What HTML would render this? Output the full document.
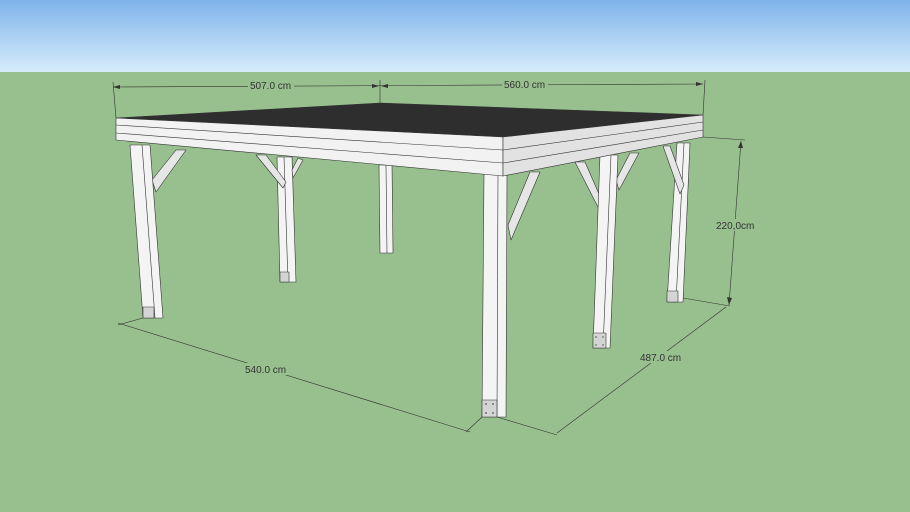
<!DOCTYPE html>
<html><head><style>
html,body{margin:0;padding:0;width:910px;height:512px;overflow:hidden}
svg{display:block}
text{font-family:"Liberation Sans",sans-serif;font-size:10px;fill:#333}
</style></head><body>
<svg width="910" height="512" viewBox="0 0 910 512">
<defs>
<linearGradient id="sky" x1="0" y1="0" x2="0" y2="1">
<stop offset="0" stop-color="#7fb3ea"/><stop offset="1" stop-color="#d6ecfb"/>
</linearGradient>
</defs>
<rect x="0" y="0" width="910" height="72" fill="url(#sky)"/>
<rect x="0" y="72" width="910" height="440" fill="#98bf8e"/>
<g stroke="#333" stroke-width="0.6" stroke-linejoin="round">
<polygon points="379,165 392,165 393,253 380,253" fill="#f4f4f4"/>
<line x1="386" y1="165" x2="387" y2="253"/>
<polygon points="277,157 292,157 296,282 280,282" fill="#f4f4f4"/>
<line x1="284" y1="157" x2="288" y2="282"/>
<rect x="280" y="272" width="9" height="10" fill="#d4d4d4"/>
<polygon points="677,143 690,143 683,302 667,302" fill="#f4f4f4"/>
<line x1="684" y1="143" x2="676" y2="302"/>
<rect x="667" y="291" width="11" height="11" fill="#d4d4d4"/>
<polygon points="256,155 266,155 286,182 283,188" fill="#e6e6e6"/>
<polygon points="292,170 298,158 303,160 293,178" fill="#e6e6e6"/>
<polygon points="663,146 670,146 684,185 680,194" fill="#e6e6e6"/>
<polygon points="176,150 186,150 156,192 152,180" fill="#e6e6e6"/>
<polygon points="530,172 540,172 511,240 508,225" fill="#e6e6e6"/>
<polygon points="575,162 585,162 606,210 604,219" fill="#e6e6e6"/>
<polygon points="630,153 639,153 619,190 616,180" fill="#e6e6e6"/>
<polygon points="130,145 150,145 163,318 143,318" fill="#f4f4f4"/>
<line x1="142" y1="145" x2="155" y2="318"/>
<rect x="143" y="307" width="11" height="11" fill="#d4d4d4"/>
<polygon points="600,155 618,155 610,348 593,348" fill="#f4f4f4"/>
<line x1="611" y1="155" x2="603" y2="348"/>
<rect x="593" y="333" width="13" height="15" fill="#d4d4d4"/>
<polygon points="484,174 507,174 506,417 482,417" fill="#f4f4f4"/>
<line x1="498" y1="174" x2="497" y2="417"/>
<rect x="482" y="400" width="15" height="17" fill="#d4d4d4"/>
<polygon points="116,118 380,103 703,115 503,137" fill="#2e2e2e"/>
<polygon points="116,118 503,137 503,176 116,140" fill="#f2f2f2"/>
<polygon points="503,137 703,115 703,137 503,176" fill="#e2e2e2"/>
<line x1="116" y1="125" x2="503" y2="150"/>
<line x1="116" y1="133" x2="503" y2="163"/>
<line x1="503" y1="150" x2="703" y2="122"/>
<line x1="503" y1="163" x2="703" y2="130"/>
</g>
<g fill="#555">
<circle cx="486" cy="404" r="0.9"/><circle cx="493" cy="404" r="0.9"/><circle cx="486" cy="413" r="0.9"/><circle cx="493" cy="413" r="0.9"/>
<circle cx="596" cy="337" r="0.8"/><circle cx="603" cy="337" r="0.8"/><circle cx="596" cy="345" r="0.8"/><circle cx="603" cy="345" r="0.8"/>
</g>
<g stroke="#333" stroke-width="0.6" fill="none">
<line x1="113" y1="87" x2="703" y2="84"/>
<line x1="113" y1="82" x2="116" y2="118"/>
<line x1="380" y1="80" x2="380" y2="103"/>
<line x1="705" y1="80" x2="703" y2="115"/>
<line x1="703" y1="137" x2="745" y2="140"/>
<line x1="741" y1="141" x2="729" y2="305"/>
<line x1="683" y1="298" x2="730" y2="306"/>
<line x1="118" y1="323" x2="470" y2="432"/>
<line x1="143" y1="318" x2="118" y2="325"/>
<line x1="482" y1="417" x2="466" y2="432"/>
<line x1="557" y1="433" x2="726" y2="307"/>
<line x1="497" y1="417" x2="557" y2="435"/>
</g>
<g fill="#333">
<polygon points="113,87 120,85 120,89"/>
<polygon points="379,86 372,84 372,88"/>
<polygon points="381,86 388,84 388,88"/>
<polygon points="703,84 696,82 696,86"/>
<polygon points="741,141 738,148 743,148"/>
<polygon points="729,305 727,297 732,298"/>
</g>
<rect x="248" y="79" width="46" height="12" fill="#98bf8e"/>
<text x="250" y="89">507.0 cm</text>
<rect x="502" y="78" width="46" height="12" fill="#98bf8e"/>
<text x="504" y="88">560.0 cm</text>
<rect x="715" y="219" width="42" height="12" fill="#98bf8e"/>
<text x="716" y="229">220,0cm</text>
<rect x="243" y="363" width="44" height="12" fill="#98bf8e"/>
<text x="245" y="373">540.0 cm</text>
<rect x="638" y="351" width="44" height="12" fill="#98bf8e"/>
<text x="640" y="361">487.0 cm</text>
</svg>
</body></html>
